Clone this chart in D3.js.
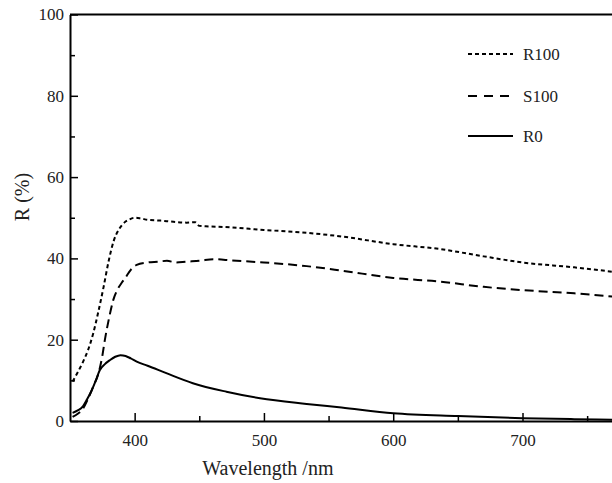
<!DOCTYPE html>
<html>
<head>
<meta charset="utf-8">
<script src="https://cdn.jsdelivr.net/npm/d3@7/dist/d3.min.js"></script>
<style>
html,body{margin:0;padding:0;background:#fff;overflow:hidden;}
svg{display:block;}
svg text{font-family:"Liberation Serif","Times New Roman",Times,"DejaVu Serif",serif !important;}
</style>
</head>
<body>
<svg id="chart" width="612" height="483"></svg>
<script>
// Data
const wavelengthR100 = [352,356,360,364,368,372,376,380,384,388,392,396,400,405,410,420,430,440,447,450,455,470,500,533,560,600,636,670,700,740,770];
const valuesR100     = [9.7,12,14.5,17.5,21.6,27,33,39.5,44.5,47.2,48.8,49.6,50,49.8,49.5,49.3,49,48.8,48.9,48,47.9,47.7,47,46.3,45.4,43.5,42.3,40.5,39,37.8,36.7];

const wavelengthS100 = [352,356,360,364,368,372,375,377,380,383.5,387,390,393,397,401.6,410,418,425,432,440,450,461,475,500,533,560,600,636,670,700,740,770];
const valuesS100     = [1,1.8,3,5.5,8.5,11.7,16,20,25,29.8,32.5,34,35.3,37.2,38.4,39,39.2,39.4,39,39.2,39.4,39.8,39.5,39,38.1,37,35.2,34.3,33,32.2,31.4,30.6];

const wavelengthR0 = [352,356,360,363,366,370,373,377,381,385,389,393,397,401.6,410,425,445,471,497,533,560,600,650,700,740,770];
const valuesR0     = [2,2.6,3.6,5.2,7,10,12.5,14,15,15.8,16.2,16,15.4,14.6,13.6,11.7,9.3,7.2,5.6,4.2,3.3,1.9,1.2,0.7,0.45,0.3];

const xTicks = [400,500,600,700];
const yTicks = [0,20,40,60,80,100];
const legendLabels = ["R100","S100","R0"];

const svg = d3.select("#chart");
const x = d3.scaleLinear().domain([350,770]).range([70,613]);
const y = d3.scaleLinear().domain([0,100]).range([421,14.5]);
const font = "Liberation Serif, Times New Roman, serif";

svg.append("clipPath").attr("id","clip").append("rect")
  .attr("x",70).attr("y",14).attr("width",543).attr("height",408);

const line = d3.line().x(d=>x(d[0])).y(d=>y(d[1])).curve(d3.curveMonotoneX);
const series = [
  {w:wavelengthR100, v:valuesR100, dash:"4,3"},
  {w:wavelengthS100, v:valuesS100, dash:"9,5"},
  {w:wavelengthR0,   v:valuesR0,   dash:null}
];
series.forEach(s=>{
  const pts = s.w.map((w,i)=>[w,s.v[i]]);
  svg.append("path").attr("d",line(pts)).attr("fill","none")
    .attr("stroke","#000").attr("stroke-width",2)
    .attr("stroke-dasharray",s.dash).attr("clip-path","url(#clip)");
});

// Axes
const xAxis = d3.axisBottom(x).tickValues(d3.range(400,771,50)).tickSizeInner(-8).tickSizeOuter(0)
  .tickFormat(d=> xTicks.includes(d)? d : "");
const gx = svg.append("g").attr("transform","translate(0,421)").call(xAxis).attr("font-family",font);
gx.selectAll(".tick line").attr("y2",d=> xTicks.includes(d)? -8 : -5).attr("stroke-width",1.5);
gx.select(".domain").attr("stroke-width",2);
gx.selectAll("text").attr("y",13).attr("dy","0.71em").attr("font-size",17).attr("fill","#222");

const yAxis = d3.axisLeft(y).tickValues(d3.range(0,101,10)).tickSizeInner(-8).tickSizeOuter(0)
  .tickFormat(d=> yTicks.includes(d)? d : "");
const gy = svg.append("g").attr("transform","translate(70,0)").call(yAxis).attr("font-family",font);
gy.selectAll(".tick line").attr("x2",d=> yTicks.includes(d)? 8 : 5).attr("stroke-width",1.5);
gy.select(".domain").attr("stroke-width",2);
gy.selectAll("text").attr("x",-6).attr("font-size",17).attr("fill","#222");

// top border
svg.append("line").attr("x1",70).attr("x2",612).attr("y1",y(100)).attr("y2",y(100))
  .attr("stroke","#000").attr("stroke-width",2);

// titles
svg.append("text").attr("x",x(500)+4).attr("y",475).attr("text-anchor","middle")
  .attr("font-family",font).attr("font-size",20).attr("fill","#222").text("Wavelength /nm");
svg.append("text").attr("transform","translate(29,197) rotate(-90)").attr("text-anchor","middle")
  .attr("font-family",font).attr("font-size",20).attr("fill","#222").text("R (%)");

// legend
const legY = [54,96,136];
const legDash = ["4,3","9,7",null];
legendLabels.forEach((t,i)=>{
  svg.append("line").attr("x1",468).attr("x2",513).attr("y1",legY[i]).attr("y2",legY[i])
    .attr("stroke","#000").attr("stroke-width",2).attr("stroke-dasharray",legDash[i]);
  svg.append("text").attr("x",523).attr("y",legY[i]).attr("dy","0.35em")
    .attr("font-family",font).attr("font-size",17).attr("fill","#222").text(t);
});
</script>
</body>
</html>
